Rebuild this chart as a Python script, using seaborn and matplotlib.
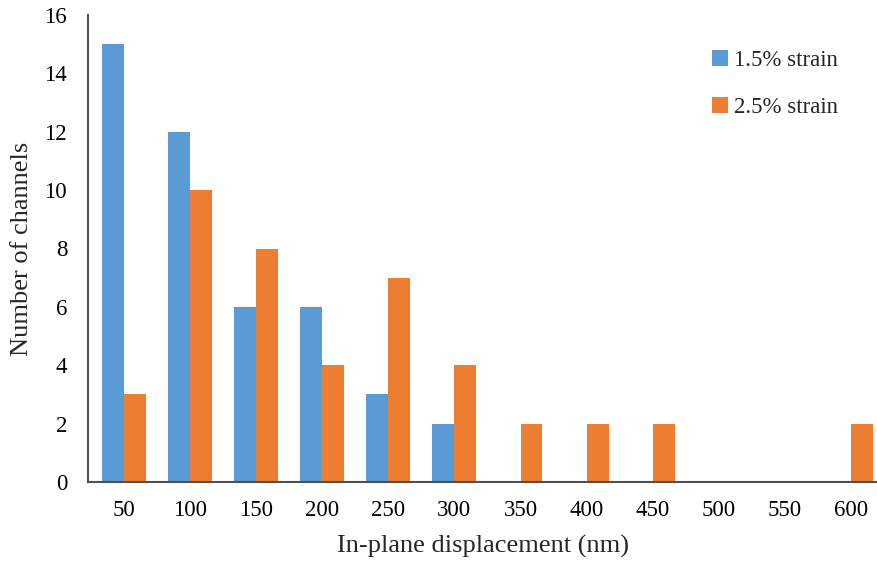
import pandas as pd
import matplotlib
matplotlib.use("Agg")
import matplotlib.pyplot as plt
import seaborn as sns

# ----------------------------
# data
# ----------------------------
displacement = ["50", "100", "150", "200", "250", "300",
                "350", "400", "450", "500", "550", "600"]
strain_15 = [15, 12, 6, 6, 3, 2, 0, 0, 0, 0, 0, 0]
strain_25 = [3, 10, 8, 4, 7, 4, 2, 2, 2, 0, 0, 2]
series_names = ["1.5% strain", "2.5% strain"]
y_ticks = [0, 2, 4, 6, 8, 10, 12, 14, 16]

df = pd.DataFrame({
    "disp": displacement * 2,
    "count": strain_15 + strain_25,
    "series": [series_names[0]] * len(displacement) + [series_names[1]] * len(displacement),
})

sns.set_style("white")
plt.rcParams["font.family"] = ["Liberation Serif", "DejaVu Serif"]

fig = plt.figure(figsize=(8.78, 5.65), dpi=100)
ax = fig.add_axes([88 / 878, 83 / 565, 790 / 878, 467 / 565])

sns.barplot(data=df, x="disp", y="count", hue="series", order=displacement,
            hue_order=series_names, palette=["#5B9BD5", "#ED7D31"],
            width=0.665, saturation=1, ax=ax, edgecolor="none")

ax.set_ylim(0, 16)
# the right end of the plot is cut off in the original
ax.set_xlim(-0.545, 11.41)
ax.set_yticks(y_ticks)
ax.tick_params(axis="both", length=0, labelsize=16.5, colors="black")
ax.tick_params(axis="x", pad=13)
ax.tick_params(axis="y", pad=15)
ax.set_xlabel("In-plane displacement (nm)", fontsize=19, labelpad=10)
ax.set_ylabel("Number of channels", fontsize=19, labelpad=8)

for s in ["top", "right"]:
    ax.spines[s].set_visible(False)
for s in ["left", "bottom"]:
    ax.spines[s].set_color("#505050")
    ax.spines[s].set_linewidth(1.5)

ax.legend(loc="upper left", bbox_to_anchor=(712 / 878, 1 - 50 / 565),
          bbox_transform=fig.transFigure, frameon=False, borderpad=0,
          borderaxespad=0, fontsize=16.5, handlelength=0.7, handleheight=0.7,
          handletextpad=0.25, labelspacing=1.15)

fig.savefig("out.png", dpi=100)
